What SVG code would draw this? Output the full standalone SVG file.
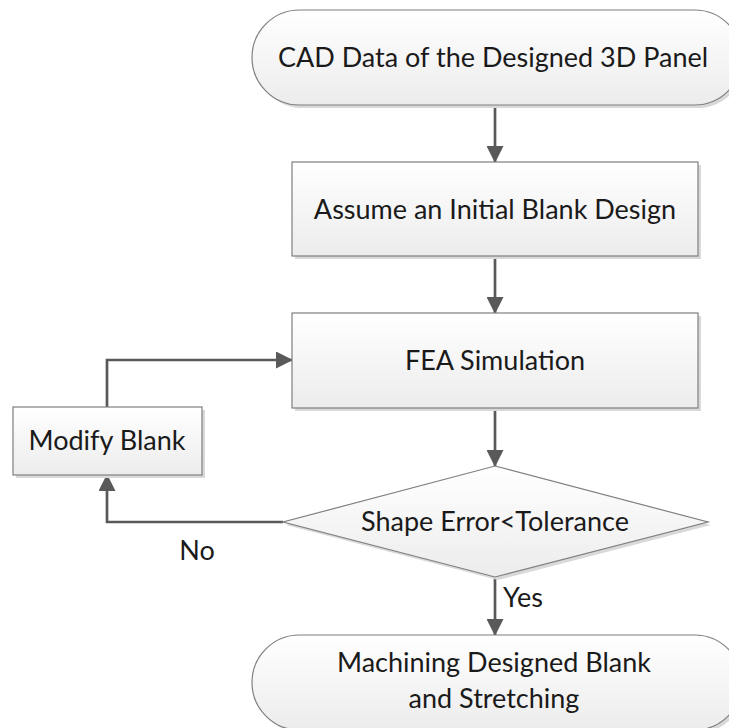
<svg xmlns="http://www.w3.org/2000/svg" width="729" height="728" viewBox="0 0 729 728">
<defs>
<linearGradient id="g" x1="0" y1="0" x2="0" y2="1">
<stop offset="0" stop-color="#ffffff"/>
<stop offset="1" stop-color="#ececec"/>
</linearGradient>
<marker id="ah" markerWidth="17" markerHeight="17" refX="16" refY="8.5" orient="auto" markerUnits="userSpaceOnUse" viewBox="0 0 17 17">
<path d="M0,0 L17,8.5 L0,17 z" fill="#595959"/>
</marker>
<style>
.shape{fill:url(#g);stroke:#7f7f7f;stroke-width:1.2}
.shadow{fill:#d9d9d9;stroke:none}
.t{font-family:Lato,"Open Sans","Liberation Sans",sans-serif;font-size:27px;fill:#1a1a1a;text-anchor:middle}
.c{fill:none;stroke:#595959;stroke-width:2.7}
</style>
</defs>
<rect width="729" height="728" fill="#ffffff"/>
<g id="connectors">
<line class="c" x1="495" y1="105" x2="495" y2="162" marker-end="url(#ah)"/>
<line class="c" x1="495" y1="256" x2="495" y2="313" marker-end="url(#ah)"/>
<line class="c" x1="495" y1="408" x2="495" y2="466" marker-end="url(#ah)"/>
<polyline class="c" points="107,407 107,360 292,360" marker-end="url(#ah)"/>
<polyline class="c" points="283,522 107,522 107,475" marker-end="url(#ah)"/>
<line class="c" x1="495" y1="577" x2="495" y2="635" marker-end="url(#ah)"/>
<text class="t" x="197" y="560">No</text>
<text class="t" x="503" y="607" style="text-anchor:start">Yes</text>
</g>
<g id="n1">
<rect class="shadow" x="255" y="13" width="490" height="95" rx="47.5"/>
<rect class="shape" x="252" y="10" width="490" height="95" rx="47.5"/>
<text class="t" x="493" y="67">CAD Data of the Designed 3D Panel</text>
</g>
<g id="n2">
<rect class="shadow" x="295" y="165" width="406" height="94"/>
<rect class="shape" x="292" y="162" width="406" height="94"/>
<text class="t" x="495" y="219">Assume an Initial Blank Design</text>
</g>
<g id="n3">
<rect class="shadow" x="295" y="316" width="406" height="95"/>
<rect class="shape" x="292" y="313" width="406" height="95"/>
<text class="t" x="495" y="370">FEA Simulation</text>
</g>
<g id="n4">
<rect class="shadow" x="16" y="410" width="189" height="68"/>
<rect class="shape" x="13" y="407" width="189" height="68"/>
<text class="t" x="107" y="450">Modify Blank</text>
</g>
<g id="n5">
<polygon class="shadow" points="498,469 711,525 498,580 286,525"/>
<polygon class="shape" points="495,466 708,522 495,577 283,522"/>
<text class="t" x="495" y="531">Shape Error&lt;Tolerance</text>
</g>
<g id="n6">
<rect class="shadow" x="255" y="638" width="490" height="95" rx="47.5"/>
<rect class="shape" x="252" y="635" width="490" height="95" rx="47.5"/>
<text class="t" x="494" y="672">Machining Designed Blank</text>
<text class="t" x="494" y="708">and Stretching</text>
</g>
</svg>
